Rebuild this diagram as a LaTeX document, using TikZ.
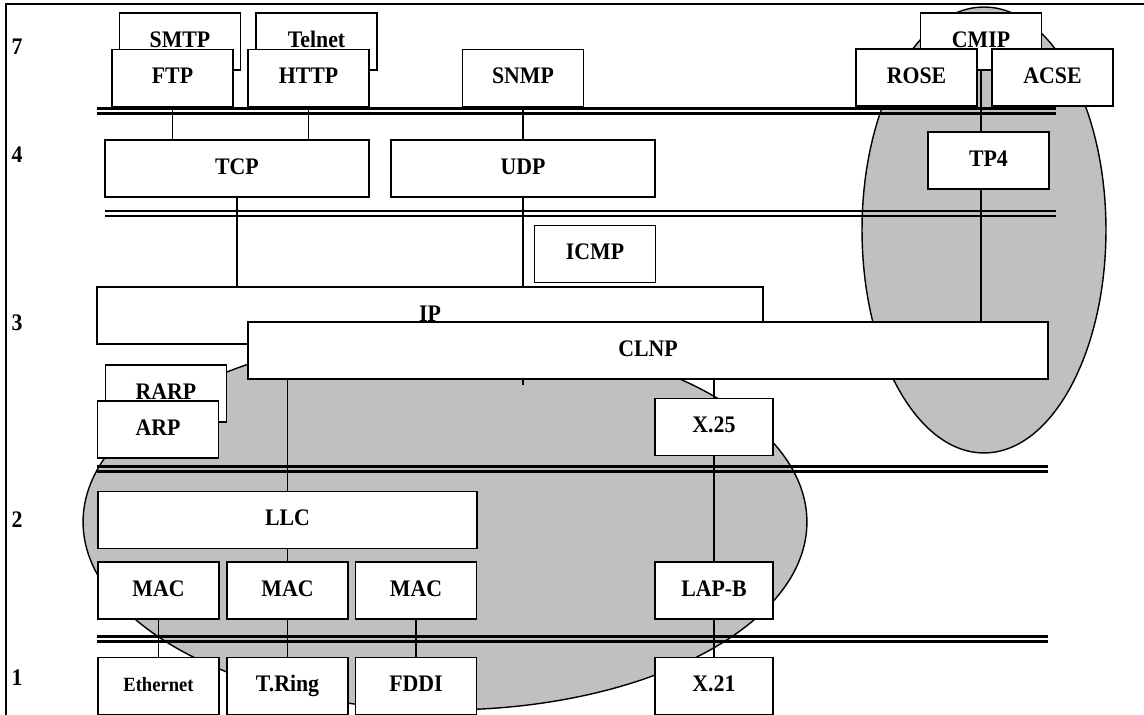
\documentclass[tikz,border=0pt]{standalone}
\usepackage{fontspec}
\setmainfont[FakeStretch=0.92]{Liberation Serif}
\usetikzlibrary{math}
\definecolor{shade}{RGB}{192,192,192}

\begin{document}
\begin{tikzpicture}[x=0.02cm, y=-0.02cm,
  box/.style={draw, fill=white, line width=1.1pt, inner sep=0pt,
    minimum width=2.42cm, minimum height=1.14cm,
    text height=10pt, text depth=3.5pt,
    font=\bfseries\fontsize{13.5}{15}\selectfont},
  link/.style={line width=0.8pt},
  layer/.style={line width=1.5pt},
  num/.style={font=\bfseries\fontsize{13.5}{15}\selectfont}]
\tikzmath{
\wide=5.28;
\narrow=2.36;
}
\useasboundingbox (0,0) rectangle (1144,715);

% shaded groups
\filldraw[fill=shade, line width=0.8pt] (445,522) ellipse [x radius=7.24cm, y radius=3.76cm];
\filldraw[fill=shade, line width=0.8pt] (984,230) ellipse [x radius=2.44cm, y radius=4.46cm];

% layer borders
\foreach \ya/\xa/\xb in {108.5/97/1056, 211/105/1056, 466.5/97/1048, 636.5/97/1048}{
  \draw[layer] (\xa,\ya) -- (\xb,\ya);
  \draw[layer] (\xa,\ya+5) -- (\xb,\ya+5);
}
\draw[line width=1.6pt] (6,715) -- (6,4) -- (1144,4);

\foreach \n/\y in {7/47,4/155,3/323,2/520,1/678}
  \node[num] (L\n) at (17,\y) {\n};

% layer 7
\node[box] (SMTP) at (180,41.5) {SMTP};
\node[box] (Telnet) at (316.5,41.5) {Telnet};
\node[box] (FTP) at (172.5,78) {FTP};
\node[box] (HTTP) at (308.5,78) {HTTP};
\node[box] (SNMP) at (523,78) {SNMP};
\node[box] (CMIP) at (981,41.5) {CMIP};
\node[box] (ROSE) at (916.5,77.5) {ROSE};
\node[box] (ACSE) at (1052.5,77.5) {ACSE};

% layer 4
\node[box, minimum width=\wide cm] (TCP) at (237,168.5) {TCP};
\node[box, minimum width=\wide cm] (UDP) at (523,168.5) {UDP};
\node[box] (TP4) at (988.5,160.5) {TP4};

% layer 3
\node[box] (ICMP) at (595,254) {ICMP};
\node[box, minimum width=13.32cm] (IP) at (430,315.5) {IP};
\node[box, minimum width=16cm] (CLNP) at (648,350.5) {CLNP};
\node[box] (RARP) at (166,393.5) {RARP};
\node[box] (ARP) at (158,429.5) {ARP};
\node[box, minimum width=\narrow cm] (X25) at (714,427) {X.25};

% layer 2
\node[box, minimum width=7.58cm] (LLC) at (287.5,520) {LLC};
\node[box] (MACa) at (158.5,590.5) {MAC};
\node[box] (MACb) at (287.5,590.5) {MAC};
\node[box] (MACc) at (416,590.5) {MAC};
\node[box, minimum width=\narrow cm] (LAPB) at (714,590.5) {LAP-B};

% layer 1
\node[box, font=\bfseries\fontsize{11.5}{13}\selectfont] (Eth) at (158.5,686) {Ethernet};
\node[box] (TRing) at (287.5,686) {T.Ring};
\node[box] (FDDI) at (416,686) {FDDI};
\node[box, minimum width=\narrow cm] (X21) at (714,686) {X.21};

\draw[link] (FTP.south) -- (FTP.south |- TCP.north);
\draw[link] (HTTP.south) -- (HTTP.south |- TCP.north);
\draw[link] (SNMP.south) -- (UDP.north);
\draw[link] (TCP.south) -- (TCP.south |- IP.north);
\draw[link] (UDP.south) -- (UDP.south |- IP.north);
\draw[link] (UDP.south |- CLNP.south) -- ++(0,5);
\draw[link] (CMIP.south) -- (CMIP.south |- TP4.north);
\draw[link] (CMIP.south |- TP4.south) -- (CMIP.south |- CLNP.north);
\draw[link] (LLC.north |- CLNP.south) -- (LLC.north);
\draw[link] (X25.north |- CLNP.south) -- (X25.north);
\draw[link] (X25.south) -- (LAPB.north);
\draw[link] (LAPB.south) -- (X21.north);
\draw[link] (LLC.south) -- (MACb.north);
\foreach \m/\p in {MACa/Eth, MACb/TRing, MACc/FDDI}
  \draw[link] (\m.south) -- (\p.north);
\end{tikzpicture}
\end{document}
